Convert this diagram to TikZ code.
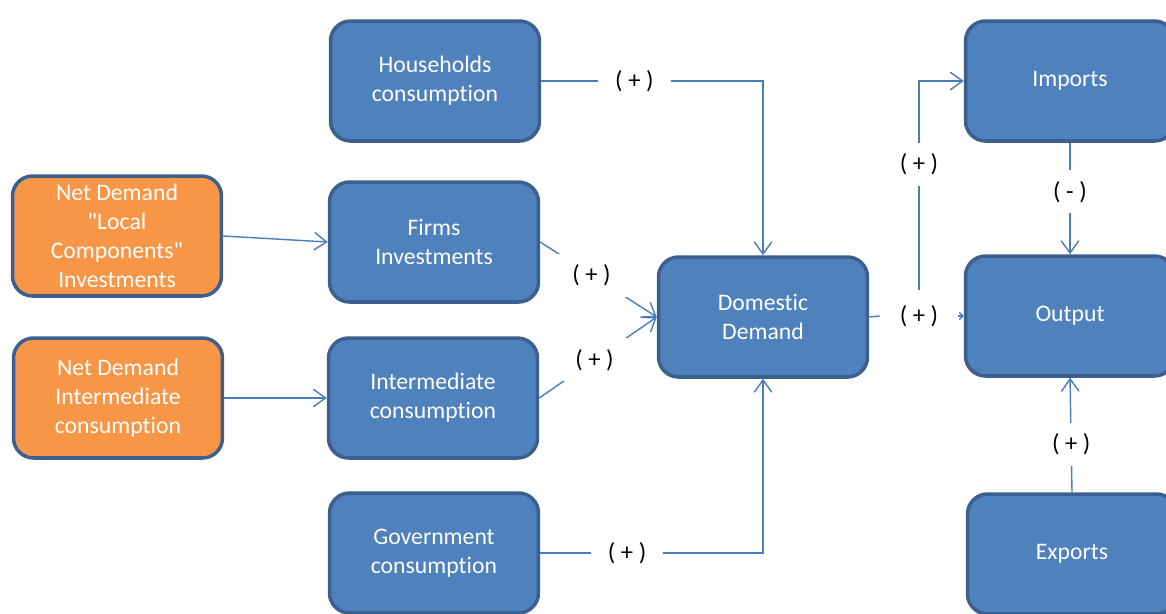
\documentclass[tikz,border=0pt]{standalone}
\usepackage{fontspec}
\setmainfont{Carlito}[Ligatures={TeX,NoCommon}]
\usetikzlibrary{arrows.meta}
\definecolor{boxblue}{HTML}{4F81BD}
\definecolor{edgeblue}{HTML}{3B5F8F}
\definecolor{boxorange}{HTML}{F79646}
\definecolor{linkblue}{HTML}{4A7EBB}
\begin{document}
\begin{tikzpicture}[x=0.02cm, y=-0.02cm,
  box/.style={draw=edgeblue, line width=2pt, fill=boxblue, rounded corners=0.4cm,
    minimum width=4.18cm, minimum height=2.4cm, align=center, text=white,
    font=\fontsize{13.5}{16.5}\selectfont},
  netbox/.style={box, fill=boxorange},
  sign/.style={fill=white, inner sep=0pt, minimum width=1.45cm, minimum height=0.86cm,
    font=\fontsize{14}{16}\selectfont},
  link/.style={draw=linkblue, line width=0.8pt},
  arr/.style={link, -{Straight Barb[length=7pt, width=10pt]}}]
  \useasboundingbox (0,0) rectangle (1166,613);
  \clip (0,0) rectangle (1166,613);

  % left column
  \node[netbox] (ndl) at (117,236) {Net Demand\\\textquotedbl Local\\Components\textquotedbl\\Investments};
  \node[netbox] (ndi) at (118,398) {Net Demand\\Intermediate\\consumption};

  % demand components
  \node[box] (hh) at (435,81) {Households\\consumption};
  \node[box] (firms) at (434,242) {Firms\\Investments};
  \node[box] (inter) at (433,398) {Intermediate\\consumption};
  \node[box] (gov) at (434,553) {Government\\consumption};

  % right side
  \node[box] (dom) at (763,317) {Domestic\\Demand};
  \node[box] (imp) at (1070,81) {Imports};
  \node[box] (out) at (1070,316) {Output};
  \node[box] (exp) at (1072,554) {Exports};
  \node[minimum width=1.56cm, minimum height=1.04cm, inner sep=0pt,
    font=\fontsize{14}{16}\selectfont] (lblDO) at (919,316) {( + )};

  \draw[arr] (ndl.east) -- (firms.west);
  \draw[arr] (ndi.east) -- (inter.west);
  \draw[arr] (hh.east) -- node[sign, pos=0.42] (lblHH) {( + )} (hh.east -| dom.north) -- (dom.north);
  \draw[arr] (firms.east) -- node[sign, pos=0.44] (lblFI) {( + )} (dom.west);
  \draw[arr] (inter.east) -- node[sign, pos=0.47] (lblIC) {( + )} (dom.west);
  \draw[arr] (gov.east) -- node[sign, pos=0.39] (lblGC) {( + )} (gov.east -| dom.south) -- (dom.south);

  \draw[link] (dom.east) -- (lblDO.west);
  \draw[link, -{Straight Barb[length=2pt, width=4pt]}] (lblDO.east) -- (out.west);
  \draw[arr] (lblDO.north) |- node[sign, pos=0.3] (lblIM) {( + )} (imp.west);
  \draw[arr] (imp.south) -- node[sign, pos=0.44] (lblIO) {( - )} (out.north);
  \draw[arr] (exp.north) -- node[sign, pos=0.42] (lblEX) {( + )} (out.south);
\end{tikzpicture}
\end{document}
